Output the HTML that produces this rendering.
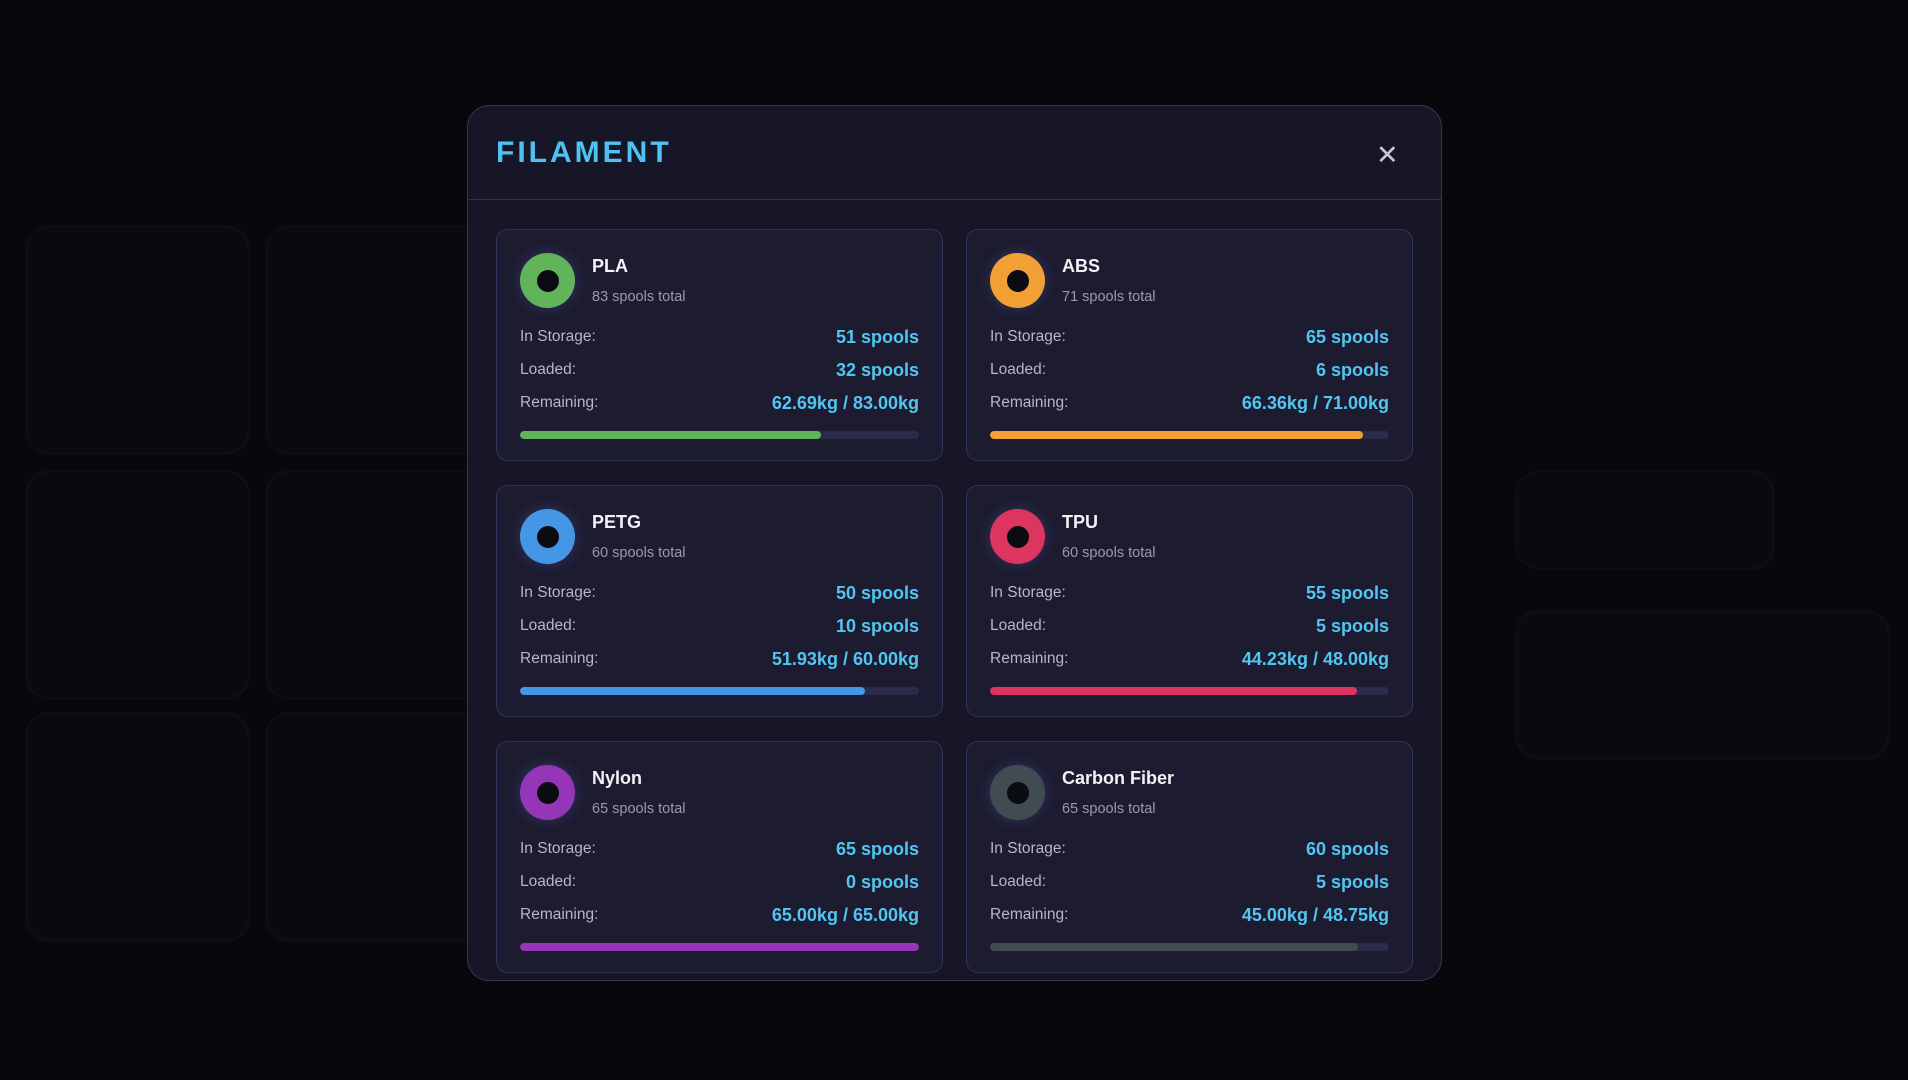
<!DOCTYPE html>
<html><head><meta charset="utf-8"><style>
*{box-sizing:border-box;margin:0;padding:0}
body{width:1908px;height:1080px;background:#07070c;font-family:"Liberation Sans",sans-serif;position:relative;overflow:hidden}
.bgc{position:absolute;border:3px solid #0d0d14;border-radius:24px;background:#09090f}
.modal{position:absolute;left:467px;top:105px;width:975px;height:876px;background:#161627;border:1.5px solid #35355a;border-radius:22px;overflow:hidden}
.hdr{position:absolute;left:0;top:0;width:100%;height:94px;border-bottom:1.5px solid #30305a}
.title{position:absolute;left:28px;top:30px;font-size:30px;font-weight:bold;color:#4ec3f2;letter-spacing:3px}
.x{position:absolute;left:908px;top:34px;font-size:27px;color:#c8c8d4}
.card{position:absolute;width:447px;height:232px;background:#1c1b2f;border:1.5px solid #32325a;border-radius:12px}
.dot{position:absolute;left:23px;top:23px;width:55px;height:55px;border-radius:50%}
.dot:after{content:"";position:absolute;left:16.5px;top:16.5px;width:22px;height:22px;border-radius:50%;background:#0b0b12}
.nm{position:absolute;left:95px;top:26px;font-size:18px;font-weight:bold;color:#f2f2f6}
.sub{position:absolute;left:95px;top:59px;font-size:14.5px;color:#9a9aac}
.row{position:absolute;left:23px;right:23px;height:22px;font-size:15.5px;color:#b6b6c6}
.row b{position:absolute;right:0;top:-1px;font-size:18px;color:#52c6f2}
.bar{position:absolute;left:23px;right:23px;top:201px;height:8px;border-radius:4px;background:#2a2a4a;overflow:hidden}
.bar i{display:block;height:100%;border-radius:4px}
</style></head><body>
<div class="bgc" style="left:25px;top:225px;width:225px;height:230px"></div>
<div class="bgc" style="left:265px;top:225px;width:225px;height:230px"></div>
<div class="bgc" style="left:25px;top:470px;width:225px;height:230px"></div>
<div class="bgc" style="left:265px;top:470px;width:225px;height:230px"></div>
<div class="bgc" style="left:25px;top:712px;width:225px;height:230px"></div>
<div class="bgc" style="left:265px;top:712px;width:225px;height:230px"></div>
<div class="bgc" style="left:1515px;top:470px;width:260px;height:100px"></div>
<div class="bgc" style="left:1515px;top:610px;width:375px;height:150px"></div>
<div class="modal">
<div class="hdr"><div class="title">FILAMENT</div><div class="x">✕</div></div>
</div>
<div id="cards"></div>
<script>
var d=[["PLA",83,51,32,"62.69kg / 83.00kg",75.5,"#62b45a"],["ABS",71,65,6,"66.36kg / 71.00kg",93.5,"#f2a033"],
["PETG",60,50,10,"51.93kg / 60.00kg",86.5,"#4696e6"],["TPU",60,55,5,"44.23kg / 48.00kg",92.1,"#dd3560"],
["Nylon",65,65,0,"65.00kg / 65.00kg",100,"#9535b8"],["Carbon Fiber",65,60,5,"45.00kg / 48.75kg",92.3,"#414b52"]];
var h="";d.forEach(function(c,i){var x=i%2?966:496,y=229+Math.floor(i/2)*256;
h+='<div class="card" style="left:'+x+'px;top:'+y+'px"><div class="dot" style="background:'+c[6]+';box-shadow:0 0 14px rgba(120,130,255,.25)"></div><div class="nm">'+c[0]+'</div><div class="sub">'+c[1]+' spools total</div>'+
'<div class="row" style="top:98px">In Storage:<b>'+c[2]+' spools</b></div><div class="row" style="top:131px">Loaded:<b>'+c[3]+' spools</b></div><div class="row" style="top:164px">Remaining:<b>'+c[4]+'</b></div>'+
'<div class="bar"><i style="width:'+c[5]+'%;background:'+c[6]+'"></i></div></div>';});
document.getElementById("cards").innerHTML=h;
</script>
</body></html>
